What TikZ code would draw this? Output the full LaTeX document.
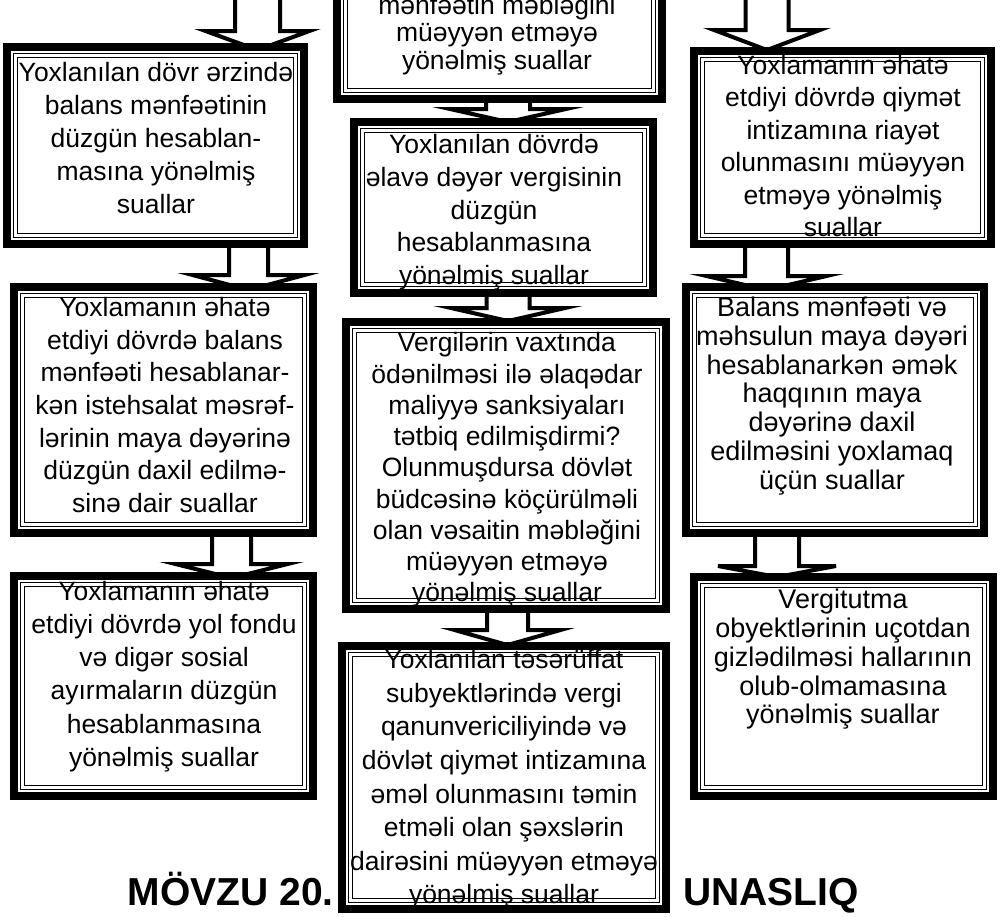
\documentclass[tikz,border=0pt]{standalone}
\usepackage{fontspec}
\setmainfont{Liberation Sans}
\usetikzlibrary{calc}
\pgfdeclarelayer{bg}
\pgfsetlayers{bg,main}
\newcommand{\setfs}[2]{\fontsize{#1}{#2}\selectfont}
\tikzset{
 frame/.style={draw, line width=8pt, fill=white, inner sep=0pt, outer sep=4pt,
   path picture={
     \draw[line width=1.5pt] ([shift={(6.5pt,-6.5pt)}]path picture bounding box.north west) rectangle ([shift={(-6.5pt,6.5pt)}]path picture bounding box.south east);
     \draw[line width=1.3pt] ([shift={(10.3pt,-10.3pt)}]path picture bounding box.north west) rectangle ([shift={(-10.3pt,10.3pt)}]path picture bounding box.south east);}},
 txt/.style={align=center, inner sep=0pt},
 barr/.style={draw, line width=4pt, fill=white, line join=miter},
 ttl/.style={font=\setfs{39}{42}\bfseries, inner sep=0pt}
}
\newcommand{\mybox}[5]{\node[frame, minimum width={(#4-#2-8)*1pt}, minimum height={(#5-#3-8)*1pt}] (#1) at ({(#2+#4)/2},{(#3+#5)/2}) {};}
\newcommand{\blkarrow}[7]{\draw[barr] let \p1=(#1), \p2=(#2) in
 ({(#3-#4)*1pt},{\y1+10pt}) -- ({(#3-#4)*1pt},{\y2+#6pt}) -- ({(#3-#5)*1pt},{\y2+#6pt}) -- ({#3*1pt},{\y2-#7pt}) -- ({(#3+#5)*1pt},{\y2+#6pt}) -- ({(#3+#4)*1pt},{\y2+#6pt}) -- ({(#3+#4)*1pt},{\y1+10pt}) -- cycle;}
\begin{document}
\begin{tikzpicture}[x=1pt,y=-1pt]
\useasboundingbox (0,0) rectangle (1003,916);
% boxes
\mybox{C1}{333}{-60}{666}{103}
\mybox{L1}{3}{43}{308}{248}
\mybox{C2}{350}{118}{657}{297}
\mybox{R1}{690}{47}{995}{248}
\mybox{L2}{10}{283}{317}{537}
\mybox{C3}{342}{318}{670}{613}
\mybox{R2}{682}{283}{988}{537}
\mybox{L3}{10}{572}{317}{800}
\mybox{C4}{338}{642}{670}{913}
\mybox{R3}{690}{573}{997}{800}
% texts
\node[txt, font=\setfs{26.5}{27.5}] (C1t) at (497,35) {mənfəətin məbləğini\\müəyyən etməyə\\yönəlmiş suallar};
\node[txt, font=\setfs{26.5}{33}] (L1t) at (156,138.5) {Yoxlanılan dövr ərzində\\balans mənfəətinin\\düzgün hesablan-\\masına yönəlmiş\\suallar};
\node[txt, font=\setfs{26.5}{32.7}] (C2t) at (494,212.5) {Yoxlanılan dövrdə\\əlavə dəyər vergisinin\\düzgün\\hesablanmasına\\yönəlmiş suallar};
\node[txt, font=\setfs{26.5}{32.4}] (R1t) at (843,146) {Yoxlamanın əhatə\\etdiyi dövrdə qiymət\\intizamına riayət\\olunmasını müəyyən\\etməyə yönəlmiş\\suallar};
\node[txt, font=\setfs{26.5}{32.7}] (L2t) at (165,405) {Yoxlamanın əhatə\\etdiyi dövrdə balans\\mənfəəti hesablanar-\\kən istehsalat məsrəf-\\lərinin maya dəyərinə\\düzgün daxil edilmə-\\sinə dair suallar};
\node[txt, font=\setfs{26.5}{31.25}] (C3t) at (507,470) {Vergilərin vaxtında\\ödənilməsi ilə əlaqədar\\maliyyə sanksiyaları\\tətbiq edilmişdirmi?\\Olunmuşdursa dövlət\\büdcəsinə köçürülməli\\olan vəsaitin məbləğini\\müəyyən etməyə\\yönəlmiş suallar};
\node[txt, font=\setfs{27}{28.7}] (R2t) at (832,396) {Balans mənfəəti və\\məhsulun maya dəyəri\\hesablanarkən əmək\\haqqının maya\\dəyərinə daxil\\edilməsini yoxlamaq\\üçün suallar};
\node[txt, font=\setfs{26.5}{33.3}] (L3t) at (164,676.5) {Yoxlamanın əhatə\\etdiyi dövrdə yol fondu\\və digər sosial\\ayırmaların düzgün\\hesablanmasına\\yönəlmiş suallar};
\node[txt, font=\setfs{26.5}{33.6}] (C4t) at (504,779.5) {Yoxlanılan təsərüffat\\subyektlərində vergi\\qanunvericiliyində və\\dövlət qiymət intizamına\\əməl olunmasını təmin\\etməli olan şəxslərin\\dairəsini müəyyən etməyə\\yönəlmiş suallar};
\node[txt, font=\setfs{27}{28.75}] (R3t) at (843,659.5) {Vergitutma\\obyektlərinin uçotdan\\gizlədilməsi hallarının\\olub-olmamasına\\yönəlmiş suallar};
% title
\node[ttl, anchor=base east] (T1) at (334,905) {MÖVZU 20.};
\node[ttl, anchor=base west] (T2) at (683,905) {UNASLIQ};
% arrows
\coordinate (Ltop) at (257.5,-30);
\coordinate (Rtop) at (766.5,-30);
\begin{pgfonlayer}{bg}
\fill[white] (0,0) rectangle (1003,916);
\blkarrow{Ltop}{L1.north}{257.5}{22.5}{52}{12}{7}
\blkarrow{L1.south}{L2.north}{248.5}{19.5}{56}{8}{7}
\blkarrow{L2.south}{L3.north}{231.5}{19.5}{56}{8}{6}
\blkarrow{C1.south}{C2.north}{508}{22}{58}{9}{4}
\blkarrow{C2.south}{C3.north}{508}{21.5}{57}{10}{3}
\blkarrow{C3.south}{C4.north}{507.5}{20.5}{53}{12}{3}
\blkarrow{Rtop}{R1.north}{767}{21.5}{53}{17}{3}
\blkarrow{R1.south}{R2.north}{766.5}{21.5}{60}{7}{7}
\blkarrow{R2.south}{R3.north}{777}{22}{59}{7}{4}
\end{pgfonlayer}
\end{tikzpicture}
\end{document}
